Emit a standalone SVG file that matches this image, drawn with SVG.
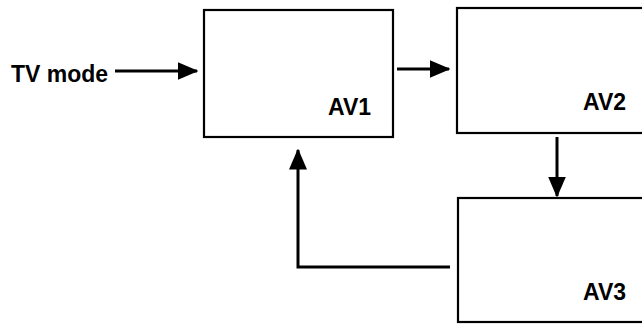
<svg xmlns="http://www.w3.org/2000/svg" width="642" height="325" viewBox="0 0 642 325">
<style>
.box{fill:#fff;stroke:#000;stroke-width:2.2}
.lbl{font-family:"Liberation Sans",Arial,sans-serif;font-weight:bold;font-size:23px;fill:#000}
.con{fill:none;stroke:#000;stroke-width:3}
</style>
<defs>
<marker id="ah" markerWidth="7" markerHeight="6" refX="6.5" refY="3" orient="auto" markerUnits="strokeWidth">
<path d="M0,0 L7,3 L0,6 Z" fill="#000"/>
</marker>
</defs>
<rect width="642" height="325" fill="#fff"/>
<g id="tvmode"><text class="lbl" x="11" y="82">TV mode</text></g>
<g id="av1"><rect class="box" x="204" y="10" width="189" height="127"/><text class="lbl" x="328" y="115">AV1</text></g>
<g id="av2"><rect class="box" x="457" y="8" width="200" height="125"/><text class="lbl" x="583" y="110">AV2</text></g>
<g id="av3"><rect class="box" x="458" y="198" width="200" height="124"/><text class="lbl" x="583" y="300">AV3</text></g>
<g id="connectors">
<path class="con" d="M115,71 H197" marker-end="url(#ah)"/>
<path class="con" d="M397,69 H449" marker-end="url(#ah)"/>
<path class="con" d="M557,137 V196" marker-end="url(#ah)"/>
<path class="con" d="M450,267 H298 V150" marker-end="url(#ah)"/>
</g>
</svg>
